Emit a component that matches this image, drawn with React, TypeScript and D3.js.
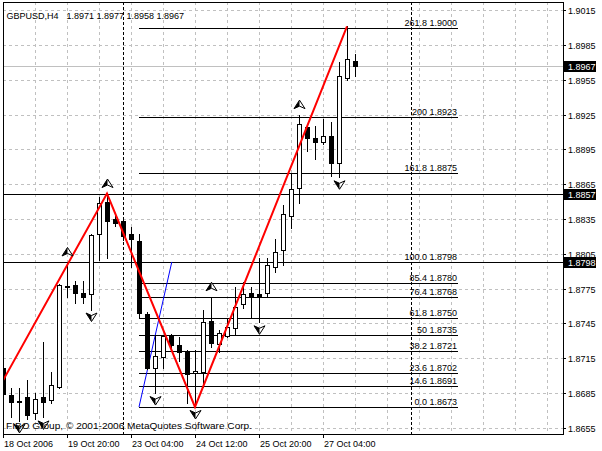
import React from 'react';
import * as d3 from 'd3';

const W = 602;
const H = 451;

const symbolLabel = 'GBPUSD,H4';
const headerOHLC = ['1.8971', '1.8977', '1.8958', '1.8967'];
const copyright = 'FIBO Group, © 2001-2006 MetaQuotes Software Corp.';

const opens = [1.8707, 1.8683, 1.8678, 1.8682, 1.8668, 1.8682, 1.8679, 1.8690, 1.8777, 1.8778, 1.8771, 1.8770, 1.8822, 1.8850, 1.8835, 1.8833, 1.8822, 1.8816, 1.8753, 1.8707, 1.8716, 1.8734, 1.8726, 1.8720, 1.8702, 1.8703, 1.8747, 1.8727, 1.8734, 1.8741, 1.8762, 1.8771, 1.8770, 1.8771, 1.8794, 1.8808, 1.8838, 1.8862, 1.8914, 1.8905, 1.8901, 1.8907, 1.8883, 1.8957, 1.8971];
const highs = [1.8725, 1.8689, 1.8689, 1.8696, 1.8685, 1.8729, 1.8703, 1.8779, 1.8798, 1.8782, 1.8782, 1.8822, 1.8854, 1.8857, 1.8839, 1.8836, 1.8828, 1.8822, 1.8755, 1.8735, 1.8735, 1.8736, 1.8733, 1.8722, 1.8722, 1.8757, 1.8768, 1.8739, 1.8750, 1.8776, 1.8781, 1.8776, 1.8801, 1.8801, 1.8818, 1.8847, 1.8874, 1.8925, 1.8915, 1.8915, 1.8921, 1.8919, 1.8970, 1.9001, 1.8977];
const lows = [1.8672, 1.8664, 1.8661, 1.8663, 1.8663, 1.8664, 1.8676, 1.8689, 1.8768, 1.8763, 1.8763, 1.8757, 1.8800, 1.8801, 1.8829, 1.8817, 1.8794, 1.8750, 1.8706, 1.8685, 1.8707, 1.8722, 1.8713, 1.8676, 1.8673, 1.8690, 1.8725, 1.8720, 1.8733, 1.8735, 1.8758, 1.8750, 1.8746, 1.8768, 1.8789, 1.8795, 1.8827, 1.8849, 1.8894, 1.8887, 1.8900, 1.8872, 1.8871, 1.8955, 1.8958];
const closes = [1.8684, 1.8677, 1.8677, 1.8666, 1.8680, 1.8677, 1.8692, 1.8778, 1.8776, 1.8771, 1.8768, 1.8821, 1.8849, 1.8833, 1.8832, 1.8820, 1.8818, 1.8754, 1.8707, 1.8717, 1.8734, 1.8726, 1.8720, 1.8701, 1.8704, 1.8746, 1.8728, 1.8737, 1.8742, 1.8759, 1.8770, 1.8768, 1.8769, 1.8795, 1.8807, 1.8839, 1.8861, 1.8917, 1.8905, 1.8901, 1.8907, 1.8883, 1.8958, 1.8973, 1.8967];

const timeLabels = ['18 Oct 2006', '19 Oct 20:00', '23 Oct 04:00', '24 Oct 12:00', '25 Oct 20:00', '27 Oct 04:00'];
const timeLabelIndex = [0, 8, 16, 24, 32, 40];
const gridIndex = [4, 8, 12, 16, 20, 24, 28, 32, 36, 40, 44, 48, 52, 56, 60, 64, 68];
const separatorIndex = [15, 51];

const priceTicks = [1.9015, 1.8985, 1.8955, 1.8925, 1.8895, 1.8865, 1.8835, 1.8805, 1.8775, 1.8745, 1.8715, 1.8685, 1.8655];
const bidPrice = 1.8967;
const hLinePrices = [1.8857, 1.8798];
const markedPrices = [1.8967, 1.8857, 1.8798];

const fibLevelLabels = ['0.0', '14.6', '23.6', '38.2', '50', '61.8', '76.4', '85.4', '100.0', '161.8', '200', '261.8'];
const fibPrices = [1.8673, 1.8691, 1.8702, 1.8721, 1.8735, 1.8750, 1.8768, 1.8780, 1.8798, 1.8875, 1.8923, 1.9000];
const fibFromIndex = 17;
const fibToIndex = 56.9;
const fibTrendIndex = [17, 21.1];
const fibTrendPrice = [1.8673, 1.8798];

const zigzagIndex = [-2, 13, 24, 43];
const zigzagPrice = [1.8671, 1.8857, 1.8673, 1.9001];

const fractalUp = [8, 13, 26, 37];
const fractalDown = [2, 5, 11, 19, 24, 32, 42];

const PL = 3, PR = 563, PT = 2, PB = 434;
const FONT = '"Liberation Sans", Arial, sans-serif';

export default function App() {
  const x = d3.scaleLinear().domain([0, 70]).range([PL, PR]);
  const y = d3.scaleLinear().domain([1.86497, 1.90221]).range([PB, PT]);
  const yr = (p: number) => Math.round(y(p));
  const xr = (i: number) => Math.round(x(i));

  const zz = d3.line<number>()
    .x((_, k) => x(zigzagIndex[k]))
    .y((_, k) => y(zigzagPrice[k]))(zigzagPrice) || '';

  const upArrow = 'M0,-4.5 L5.5,4 L0,1.5 L-5.5,4 Z';
  const upLeft = 'M0,-4.5 L0,1.5 L-5.5,4 Z';
  const downArrow = 'M0,4.5 L5.5,-4 L0,-1.5 L-5.5,-4 Z';
  const downLeft = 'M0,4.5 L0,-1.5 L-5.5,-4 Z';

  return (
    <svg width={W} height={H} style={{ position: 'absolute', left: 0, top: 0, background: '#fff' }}
      fontFamily={FONT} fontSize={9}>
      <defs>
        <clipPath id="plot">
          <rect x={PL} y={PT} width={PR - PL} height={PB - PT} />
        </clipPath>
      </defs>
      <rect x={0} y={0} width={W} height={H} fill="#fff" />

      {/* grid */}
      <g stroke="#c0c0c0" strokeWidth={1} strokeDasharray="3,3" shapeRendering="crispEdges">
        {priceTicks.map((p, k) => (
          <line key={'h' + k} x1={PL} x2={PR} y1={yr(p) + 0.5} y2={yr(p) + 0.5} />
        ))}
        {gridIndex.map((i, k) => (
          <line key={'v' + k} x1={xr(i) + 0.5} x2={xr(i) + 0.5} y1={PT} y2={PB} />
        ))}
      </g>

      {/* bid line */}
      <line x1={PL} x2={PR} y1={yr(bidPrice) + 0.5} y2={yr(bidPrice) + 0.5} stroke="#c0c0c0" shapeRendering="crispEdges" />

      {/* period separators */}
      <g stroke="#000" strokeDasharray="3,2" shapeRendering="crispEdges">
        {separatorIndex.map((i, k) => (
          <line key={k} x1={xr(i) + 0.5} x2={xr(i) + 0.5} y1={PT} y2={PB} />
        ))}
      </g>

      {/* horizontal lines */}
      <g stroke="#000" shapeRendering="crispEdges">
        {hLinePrices.map((p, k) => (
          <line key={k} x1={PL} x2={PR} y1={yr(p) + 0.5} y2={yr(p) + 0.5} />
        ))}
      </g>

      {/* fibonacci */}
      <g>
        {fibPrices.map((p, k) => (
          <g key={k}>
            <line x1={xr(fibFromIndex)} x2={xr(fibToIndex)} y1={yr(p) + 0.5} y2={yr(p) + 0.5} stroke="#000" shapeRendering="crispEdges" />
            <text x={xr(fibToIndex) - 1} y={yr(p) - 2} textAnchor="end" fill="#000">
              {fibLevelLabels[k] + ' ' + p.toFixed(4)}
            </text>
          </g>
        ))}
        <line x1={x(fibTrendIndex[0])} y1={y(fibTrendPrice[0])} x2={x(fibTrendIndex[1])} y2={y(fibTrendPrice[1])} stroke="#0000ff" strokeWidth={1} />
      </g>

      {/* candles */}
      <g clipPath="url(#plot)" shapeRendering="crispEdges">
        {opens.map((o, i) => {
          const c = closes[i];
          const cx = xr(i);
          const top = yr(Math.max(o, c));
          const bot = yr(Math.min(o, c));
          const bull = c > o;
          return (
            <g key={i}>
              <line x1={cx + 0.5} x2={cx + 0.5} y1={yr(highs[i])} y2={yr(lows[i]) + 1} stroke="#000" />
              {bot - top >= 1 ? (
                <rect x={cx - 2 + 0.5} y={top + 0.5} width={4} height={bot - top} fill={bull ? '#fff' : '#000'} stroke="#000" />
              ) : (
                <line x1={cx - 2} x2={cx + 3} y1={top + 0.5} y2={top + 0.5} stroke="#000" />
              )}
            </g>
          );
        })}
      </g>

      {/* zigzag */}
      <g clipPath="url(#plot)">
        <path d={zz} fill="none" stroke="#ff0000" strokeWidth={2} />
      </g>

      {/* fractals */}
      <g clipPath="url(#plot)">
        {fractalUp.map((i, k) => (
          <g key={'u' + k} transform={`translate(${xr(i) + 0.5},${y(highs[i]) - 10})`}>
            <path d={upArrow} fill="#fff" stroke="#000" strokeWidth={1} strokeLinejoin="miter" />
            <path d={upLeft} fill="#000" />
          </g>
        ))}
        {fractalDown.map((i, k) => (
          <g key={'d' + k} transform={`translate(${xr(i) + 0.5},${y(lows[i]) + 7.5})`}>
            <path d={downArrow} fill="#fff" stroke="#000" strokeWidth={1} strokeLinejoin="miter" />
            <path d={downLeft} fill="#000" />
          </g>
        ))}
      </g>

      {/* texts in plot */}
      <text x={6.5} y={18.5} fill="#000">{symbolLabel}</text>
      <text x={66.5} y={18.5} fill="#000">{headerOHLC.join(' ')}</text>
      <text x={6} y={429} fill="#000" textLength={246} lengthAdjust="spacingAndGlyphs">{copyright}</text>

      {/* frame */}
      <rect x={PL + 0.5} y={PT + 0.5} width={PR - PL} height={PB - PT} fill="none" stroke="#000" shapeRendering="crispEdges" />

      {/* y axis */}
      <g>
        {priceTicks.map((p, k) => (
          <g key={k}>
            <line x1={PR} x2={PR + 3} y1={yr(p) + 0.5} y2={yr(p) + 0.5} stroke="#000" shapeRendering="crispEdges" />
            <text x={568} y={yr(p) + 4} fill="#000">{p.toFixed(4)}</text>
          </g>
        ))}
        {markedPrices.map((p, k) => (
          <g key={'m' + k}>
            <rect x={564} y={yr(p) - 5} width={32} height={11} fill="#000" />
            <text x={568} y={yr(p) + 4} fill="#fff">{p.toFixed(4)}</text>
          </g>
        ))}
      </g>

      {/* x axis */}
      <g>
        {timeLabelIndex.map((i, k) => (
          <g key={k}>
            <line x1={xr(i) + 0.5} x2={xr(i) + 0.5} y1={PB} y2={PB + 4} stroke="#000" shapeRendering="crispEdges" />
            <text x={xr(i) + 1} y={447} fill="#000">{timeLabels[k]}</text>
          </g>
        ))}
      </g>
    </svg>
  );
}
